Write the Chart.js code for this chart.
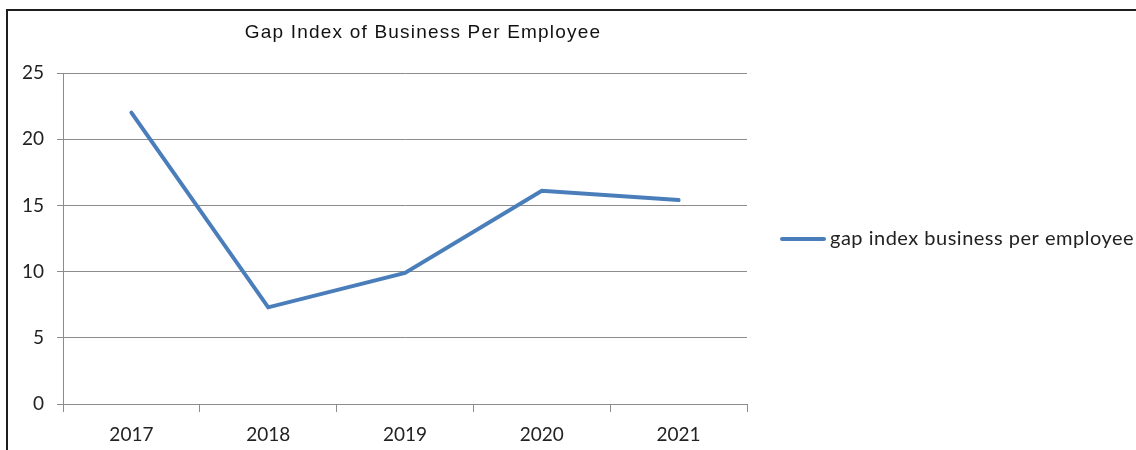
<!DOCTYPE html>
<html>
<head>
<meta charset="utf-8">
<script src="https://cdn.jsdelivr.net/npm/chart.js@4.4.0/dist/chart.umd.min.js"></script>
<style>
  html, body { margin: 0; padding: 0; background: #fff; }
  #wrap { width: 1136px; height: 450px; position: relative; }
</style>
</head>
<body>
<div id="wrap"><canvas id="chart"></canvas></div>
<script>
const years = ['2017', '2018', '2019', '2020', '2021'];
const gapIndex = [22.0, 7.3, 9.9, 16.1, 15.4];
const seriesName = 'gap index business per employee';
const chartTitle = 'Gap Index of Business Per Employee';
const yTicks = [0, 5, 10, 15, 20, 25];

const lineColor = '#4A7EBB';
const gridColor = '#8c8c8c';
const textColor = '#222';
const tickFont = { family: 'Lato', size: 19 };

// Outer frame, title and right-hand legend are painted on top of the chart
const decorations = {
  id: 'decorations',
  afterDraw(chart) {
    const ctx = chart.ctx;
    ctx.save();

    // frame (only top and left edges fall inside the canvas)
    ctx.strokeStyle = '#1e1e1e';
    ctx.lineWidth = 2;
    ctx.beginPath();
    ctx.moveTo(7, 460);
    ctx.lineTo(7, 10);
    ctx.lineTo(1140, 10);
    ctx.stroke();

    // title
    ctx.fillStyle = '#111';
    ctx.font = '19px "Liberation Sans", Arial, sans-serif';
    ctx.letterSpacing = '1.2px';
    ctx.textAlign = 'left';
    ctx.textBaseline = 'alphabetic';
    const tw = ctx.measureText(chartTitle).width;
    ctx.fillText(chartTitle, 423 - tw / 2, 38);

    // legend entry
    const ds = chart.data.datasets[0];
    const ly = 239;
    ctx.strokeStyle = ds.borderColor;
    ctx.lineWidth = 4;
    ctx.lineCap = 'round';
    ctx.beginPath();
    ctx.moveTo(782, ly);
    ctx.lineTo(824, ly);
    ctx.stroke();
    ctx.fillStyle = textColor;
    ctx.font = '20px Lato, sans-serif';
    ctx.letterSpacing = '0.5px';
    ctx.textBaseline = 'middle';
    ctx.fillText(ds.label, 830, ly);

    ctx.restore();
  }
};

new Chart(document.getElementById('chart'), {
  type: 'line',
  data: {
    labels: years,
    datasets: [{
      label: seriesName,
      data: gapIndex,
      borderColor: lineColor,
      backgroundColor: lineColor,
      borderWidth: 4,
      pointRadius: 0,
      tension: 0,
      borderCapStyle: 'round',
      borderJoinStyle: 'miter'
    }]
  },
  options: {
    responsive: true,
    maintainAspectRatio: false,
    animation: false,
    layout: { padding: { left: 0, top: 73, right: 389, bottom: 0 } },
    plugins: {
      legend: { display: false },
      title: { display: false },
      tooltip: { enabled: false }
    },
    scales: {
      x: {
        offset: true,
        grid: {
          offset: true,
          drawOnChartArea: false,
          drawTicks: true,
          tickLength: 8,
          color: gridColor
        },
        border: { display: true, color: gridColor },
        ticks: { color: textColor, font: tickFont, padding: 11, maxRotation: 0 },
        afterFit(scale) { scale.height = 46; }
      },
      y: {
        min: 0,
        max: 25,
        afterBuildTicks(scale) { scale.ticks = yTicks.map(v => ({ value: v })); },
        grid: { color: gridColor, tickLength: 6 },
        border: { display: true, color: gridColor },
        ticks: { color: textColor, font: tickFont, padding: 13 },
        afterFit(scale) { scale.width = 63; }
      }
    }
  },
  plugins: [decorations]
});
</script>
</body>
</html>
